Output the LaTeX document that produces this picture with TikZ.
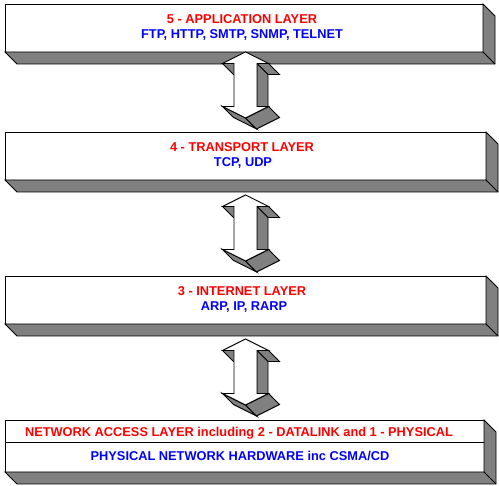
\documentclass[tikz,border=0pt]{standalone}
\usepackage{fontspec}
\setmainfont{Liberation Sans}
\usetikzlibrary{positioning}
\definecolor{shade}{RGB}{128,128,128}

\begin{document}
\begin{tikzpicture}[
		x=1pt, y=-1pt,
		face/.style		={ draw=black, fill=white, line width=0.9pt,
			outer sep=0pt, inner sep=0pt, line join=miter
		},
		side/.style		={ draw=black, fill=shade, line width=0.9pt,
			line join=miter
		},
		layername/.style	={ text=red, inner sep=0pt,
			font=\bfseries\fontsize{12.8}{15}\selectfont
		},
		protocols/.style	={ text=blue, inner sep=0pt,
			font=\bfseries\fontsize{12.8}{15}\selectfont
		},
		updown/.pic		={
			% hidden sides first, front face on top
			\draw [side] (-23,11.5) -- (-11.5,11.5) -- (-0.5,22.5) -- (-12,22.5) -- cycle;
			\draw [side] (11.5,11.5) -- (23,11.5) -- (34,22.5) -- (22.5,22.5) -- cycle;
			\draw [side] (11.5,11.5) -- (22.5,22.5) -- (22.5,65.5) -- (11.5,54.5) -- cycle;
			\draw [side] (-23,54.5) -- (0,66) -- (11,77) -- (-12,65.5) -- cycle;
			\draw [side] (0,66) -- (23,54.5) -- (34,65.5) -- (11,77) -- cycle;
			\draw [face] (0,0) -- (23,11.5) -- (11.5,11.5) -- (11.5,54.5)
				-- (23,54.5) -- (0,66) -- (-23,54.5) -- (-11.5,54.5)
				-- (-11.5,11.5) -- (-23,11.5) -- cycle;
		},
	]

	\fill [white] (0,0) rectangle (499,486);
	\useasboundingbox (0,0) rectangle (499,486);

	% name / top / bottom / right edge of each layer
	\def\layerlist{	5/4/52/483, 4/132/180/486, 3/276/324/486, 1/420/472/484}

	% draw layer boxes
	\foreach \name/\top/\bot/\rgt in \layerlist {
			\pgfmathsetmacro{\w}{\rgt-5}
			\pgfmathsetmacro{\h}{\bot-\top}
			\node (l\name) [face, anchor=north west, minimum width=\w pt,
				minimum height=\h pt] at (5,\top) {};
			\draw [side] (l\name.south west) -- (l\name.south east)
				-- (l\name.north east) -- ++(12,12) -- ([shift={(12pt,-12pt)}]l\name.south east)
				-- ([shift={(12pt,-12pt)}]l\name.south west) -- cycle;
			\draw [side] (l\name.south east) -- ++(12,12);
		}
	\draw [line width=0.9pt] ([yshift=-22pt]l1.north west) -- ([yshift=-22pt]l1.north east);

	% layer texts
	\node (n5) [layername] at (242,19) {5 - APPLICATION LAYER};
	\node (p5) [protocols] at (242,35) {FTP, HTTP, SMTP, SNMP, TELNET};
	\node (n4) [layername] at (242,147) {4 - TRANSPORT LAYER};
	\node (p4) [protocols] at (243,163) {TCP, UDP};
	\node (n3) [layername] at (242,291) {3 - INTERNET LAYER};
	\node (p3) [protocols] at (244,307) {ARP, IP, RARP};
	\node (n1) [layername] at (239,433) {NETWORK ACCESS LAYER including 2 - DATALINK and 1 - PHYSICAL};
	\node (p1) [protocols] at (240,456) {PHYSICAL NETWORK HARDWARE inc CSMA/CD};

	% draw double arrows between the layers
	\foreach \ty in {52,195,339}
		\pic at (245.5,\ty) {updown};

\end{tikzpicture}
\end{document}
